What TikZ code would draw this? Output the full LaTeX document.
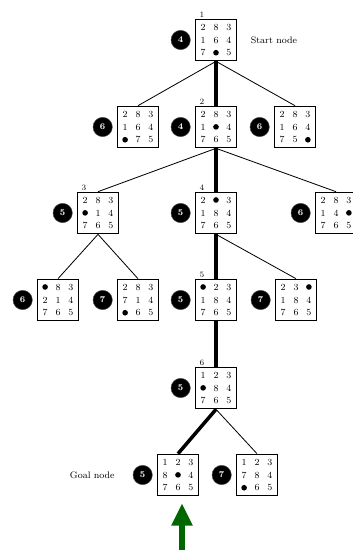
\documentclass[tikz,border=0pt]{standalone}
\usepackage{amsmath}
\usepackage{tikz}
\usetikzlibrary{positioning}
\usetikzlibrary{arrows.meta}
\tikzstyle{board}=[draw, double, double distance=0.8pt, minimum size=36pt, inner sep=0pt, align=center, font=\fontsize{8}{11}\selectfont]
\tikzstyle{cost}=[circle, fill=black, draw=black!70, text=white, inner sep=0pt, minimum size=16.5pt, font=\bfseries\fontsize{7.5}{7.5}\selectfont]
\tikzstyle{idx}=[anchor=south west, inner sep=1pt, xshift=3pt, font=\fontsize{7}{7}\selectfont]
\tikzstyle{edge}=[line width=0.7pt]
\tikzstyle{best}=[line width=3pt]
\tikzstyle{note}=[font=\fontsize{8}{8}\selectfont]
\tikzstyle{goalarrow}=[draw=green!40!black, line width=5pt, -{Triangle[width=17pt, length=19pt, fill=green!40!black]}]
\newcommand{\bl}{\raisebox{0.3pt}{\tikz\fill (0,0) circle (2.4pt);}}
\newcommand{\brd}[9]{\makebox[11pt]{#1}\makebox[11pt]{#2}\makebox[11pt]{#3}\\\makebox[11pt]{#4}\makebox[11pt]{#5}\makebox[11pt]{#6}\\\makebox[11pt]{#7}\makebox[11pt]{#8}\makebox[11pt]{#9}}
\begin{document}
\begin{tikzpicture}[x=0.03cm, y=-0.03cm]
        \useasboundingbox (0, 0) rectangle (352, 550);
        % boards
        \node[board, label={[idx]north west:1}] (n1) at (216, 40) {\brd{2}{8}{3}{1}{6}{4}{7}{\bl}{5}};
        \node[board] (a) at (138, 127) {\brd{2}{8}{3}{1}{6}{4}{\bl}{7}{5}};
        \node[board, label={[idx]north west:2}] (n2) at (216, 127) {\brd{2}{8}{3}{1}{\bl}{4}{7}{6}{5}};
        \node[board] (b) at (295, 127) {\brd{2}{8}{3}{1}{6}{4}{7}{5}{\bl}};
        \node[board, label={[idx]north west:3}] (n3) at (98, 213) {\brd{2}{8}{3}{\bl}{1}{4}{7}{6}{5}};
        \node[board, label={[idx]north west:4}] (n4) at (216, 213) {\brd{2}{\bl}{3}{1}{8}{4}{7}{6}{5}};
        \node[board] (c) at (336, 213) {\brd{2}{8}{3}{1}{4}{\bl}{7}{6}{5}};
        \node[board] (d) at (58, 300) {\brd{\bl}{8}{3}{2}{1}{4}{7}{6}{5}};
        \node[board] (e) at (138, 300) {\brd{2}{8}{3}{7}{1}{4}{\bl}{6}{5}};
        \node[board, label={[idx]north west:5}] (n5) at (216, 300) {\brd{\bl}{2}{3}{1}{8}{4}{7}{6}{5}};
        \node[board] (f) at (296, 300) {\brd{2}{3}{\bl}{1}{8}{4}{7}{6}{5}};
        \node[board, label={[idx]north west:6}] (n6) at (216, 388) {\brd{1}{2}{3}{\bl}{8}{4}{7}{6}{5}};
        \node[board] (goal) at (178, 475) {\brd{1}{2}{3}{8}{\bl}{4}{7}{6}{5}};
        \node[board] (g) at (257, 475) {\brd{1}{2}{3}{7}{8}{4}{\bl}{6}{5}};
        % costs
        \node[cost, left=3.5pt of n1] (k1) {4};
        \node[cost, left=3.5pt of a] (ka) {6};
        \node[cost, left=3.5pt of n2] (k2) {4};
        \node[cost, left=3.5pt of b] (kb) {6};
        \node[cost, left=3.5pt of n3] (k3) {5};
        \node[cost, left=3.5pt of n4] (k4) {5};
        \node[cost, left=3.5pt of c] (kc) {6};
        \node[cost, left=3.5pt of d] (kd) {6};
        \node[cost, left=3.5pt of e] (ke) {7};
        \node[cost, left=3.5pt of n5] (k5) {5};
        \node[cost, left=3.5pt of f] (kf) {7};
        \node[cost, left=3.5pt of n6] (k6) {5};
        \node[cost, left=3.5pt of goal] (kgoal) {5};
        \node[cost, left=3.5pt of g] (kg) {7};
        \node[note, right=8pt of n1] (start) {Start node};
        \node[note, left=12pt of kgoal] (goaltxt) {Goal node};
        % tree
        \draw[edge] (n1.south) -- (a.north);
        \draw[edge] (n1.south) -- (b.north);
        \draw[edge] (n2.south) -- (n3.north);
        \draw[edge] (n2.south) -- (c.north);
        \draw[edge] (n3.south) -- (d.north);
        \draw[edge] (n3.south) -- (e.north);
        \draw[edge] (n4.south) -- (f.north);
        \draw[edge] (n6.south) -- (g.north);
        \draw[best] (n1.south) -- (n2.north);
        \draw[best] (n2.south) -- (n4.north);
        \draw[best] (n4.south) -- (n5.north);
        \draw[best] (n5.south) -- (n6.north);
        \draw[best] (n6.south) -- (goal.north);
        % arrow
        \coordinate (foot) at (182, 552);
        \coordinate (tip) at ([yshift=-6pt]goal.south);
        \draw[goalarrow] (foot) -- (foot |- tip);
    \end{tikzpicture}
\end{document}
